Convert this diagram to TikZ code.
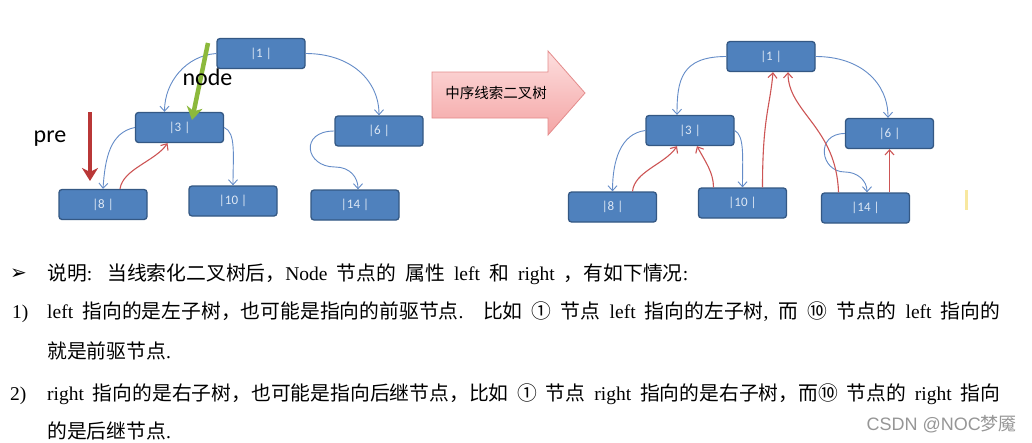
\documentclass[tikz,border=0pt]{standalone}
\usepackage{fontspec}
\setmainfont{Liberation Serif}
\newfontfamily\cjkf{Noto Sans CJK SC}
\newfontfamily\djv{DejaVu Sans}
\newfontfamily\clb{Carlito}
\newfontfamily\lsn{Liberation Sans}
\usetikzlibrary{arrows.meta}
\newcommand\Cj[1]{{\cjkf\fontsize{19.8}{19.8}\selectfont #1}}
\definecolor{nfill}{RGB}{79,129,189}
\definecolor{nborder}{RGB}{52,88,132}
\definecolor{ntext}{RGB}{222,232,245}
\definecolor{blueline}{RGB}{100,140,200}
\definecolor{redline}{RGB}{205,85,85}
\definecolor{prered}{RGB}{185,55,55}
\definecolor{nodegreen}{RGB}{140,185,60}
\definecolor{pinktop}{RGB}{253,222,222}
\definecolor{pinkbot}{RGB}{244,165,165}
\definecolor{pinkborder}{RGB}{228,140,140}
\definecolor{wmgray}{RGB}{150,150,150}
\definecolor{yel}{RGB}{248,232,160}
\tikzset{
  tn/.style={draw=nborder, line width=1.3pt, fill=nfill, rounded corners=3pt,
    minimum width=88pt, minimum height=30pt, inner sep=0pt, text=ntext,
    font=\clb\fontsize{13}{13}\selectfont},
  child/.style={draw=blueline, line width=0.9pt, -{Straight Barb[length=5pt,width=9pt]}},
  thread/.style={draw=redline, line width=1.1pt, -{Straight Barb[length=5pt,width=9pt]}},
  bigarrow/.style={line width=4.5pt, -{Stealth[length=13pt,width=16pt,inset=4pt]}},
  lbl/.style={inner sep=0pt, font=\clb\fontsize{24}{24}\selectfont, anchor=base},
  txt/.style={inner sep=0pt, anchor=base west, font=\fontsize{19.5}{19.5}\selectfont}
}
\begin{document}
\begin{tikzpicture}[x=1pt,y=-1pt]
\useasboundingbox (0,0) rectangle (1032,442);
\fill[white] (0,0) rectangle (1032,442);

% ---------- left tree ----------
\node[tn] (l1) at (261,53.5) {|1 |};
\node[tn] (l3) at (179.5,127.5) {|3 |};
\node[tn] (l6) at (379,131) {|6 |};
\node[tn] (l8) at (103,204.5) {|8 |};
\node[tn] (l10) at (233,201) {|10 |};
\node[tn] (l14) at (355,205) {|14 |};
\coordinate (l6via) at (335,167);

\draw[child] (l1.west) .. controls +(-30,2) and +(0,-30) .. ([xshift=-15pt]l3.north);
\draw[child] (l1.east) .. controls +(45,0) and +(0,-35) .. (l6.north);
\draw[child] (l3.west) .. controls +(-25,5) and +(2,-30) .. (l8.north);
\draw[child] (l3.east) .. controls +(12,5) and +(0,-30) .. (l10.north);
\draw[child] (l6.west) .. controls +(-35,0) and +(-30,0) .. (l6via) .. controls +(15,0) and +(0,-12) .. ([xshift=3pt]l14.north);
\draw[thread] ([xshift=17pt]l8.north) .. controls +(3,-20) and +(-12,18) .. ([xshift=-12pt]l3.south);

\coordinate (gs) at (208,43);
\coordinate (ge) at (192,120);
\draw[bigarrow, nodegreen] (gs) -- (ge);
\coordinate (rs) at (90,112);
\coordinate (re) at (90,181);
\draw[bigarrow, prered] (rs) -- (re);
\node[lbl] (nodelbl) at (207.5,85) {node};
\node[lbl] (prelbl) at (50,142) {pre};

% ---------- big pink arrow ----------
\path[draw=pinkborder, line width=0.8pt, top color=pinktop, bottom color=pinkbot]
  (432,72) -- (548,72) -- (548,51) -- (585,93) -- (548,135) -- (548,118) -- (432,118) -- cycle;
\node[inner sep=0pt, font=\cjkf\fontsize{14.5}{14.5}\selectfont] (arrlbl) at (496,93) {中序线索二叉树};

% ---------- right tree ----------
\node[tn] (r1) at (771,56.5) {|1 |};
\node[tn] (r3) at (690,130.5) {|3 |};
\node[tn] (r6) at (889.5,133.5) {|6 |};
\node[tn] (r8) at (612.5,207) {|8 |};
\node[tn] (r10) at (742.5,203) {|10 |};
\node[tn] (r14) at (865.5,208) {|14 |};
\coordinate (r6via) at (845,172);

\draw[child] (r1.west) .. controls +(-45,0) and +(0,-35) .. ([xshift=-13pt]r3.north);
\draw[child] (r1.east) .. controls +(45,0) and +(0,-35) .. ([xshift=-1.5pt]r6.north);
\draw[child] (r3.west) .. controls +(-25,3) and +(0,-30) .. (r8.north);
\draw[child] (r3.east) .. controls +(10,5) and +(0,-30) .. (r10.north);
\draw[child] (r6.west) .. controls +(-30,0) and +(-25,0) .. (r6via) .. controls +(12,0) and +(0,-12) .. ([xshift=1.5pt]r14.north);

\draw[thread] ([xshift=20pt]r8.north) .. controls +(2,-20) and +(-12,18) .. ([xshift=-13pt]r3.south);
\draw[thread] ([xshift=-29pt]r10.north) .. controls +(0,-15) and +(8,15) .. ([xshift=7pt]r3.south);
\draw[thread] ([xshift=20pt]r10.north) .. controls +(0,-70) and +(-3,35) .. ([xshift=2pt]r1.south);
\draw[thread] ([xshift=-27pt]r14.north) .. controls +(-2,-65) and +(0,40) .. ([xshift=17pt]r1.south);
\draw[thread] ([xshift=24pt]r14.north) -- (r6.south);

\fill[yel] (965,190) rectangle (968,210);

% ---------- text ----------
\node[inner sep=0pt, anchor=base, font=\djv\fontsize{20}{20}\selectfont] (bul) at (18.5,279) {➢};
\node[txt] (t1) at (47,280) {\makebox[641pt][s]{\Cj{说明}: \Cj{当线索化二叉树后，}Node \Cj{节点的} \Cj{属性} left \Cj{和} right \Cj{，有如下情况}:}};
\node[txt] (n1) at (12,318) {1)};
\node[txt] (t2) at (47,318) {\makebox[953pt][s]{left \Cj{指向的是左子树，也可能是指向的前驱节点}. \Cj{比如} \Cj{①} \Cj{节点} left \Cj{指向的左子树}, \Cj{而} \Cj{⑩} \Cj{节点的} left \Cj{指向的}}};
\node[txt] (t3) at (47,358) {\Cj{就是前驱节点}.};
\node[txt] (n2) at (10,400) {2)};
\node[txt] (t4) at (47,400) {\makebox[953pt][s]{right \Cj{指向的是右子树，也可能是指向后继节点，比如} \Cj{①} \Cj{节点} right \Cj{指向的是右子树，而⑩} \Cj{节点的} right \Cj{指向}}};
\node[txt] (t5) at (47,438) {\Cj{的是后继节点}.};

\node[inner sep=0pt, anchor=base east, text=wmgray, font=\lsn\fontsize{18}{18}\selectfont] (wm) at (1017,430) {CSDN @NOC{\cjkf 梦魇}};
\end{tikzpicture}
\end{document}
